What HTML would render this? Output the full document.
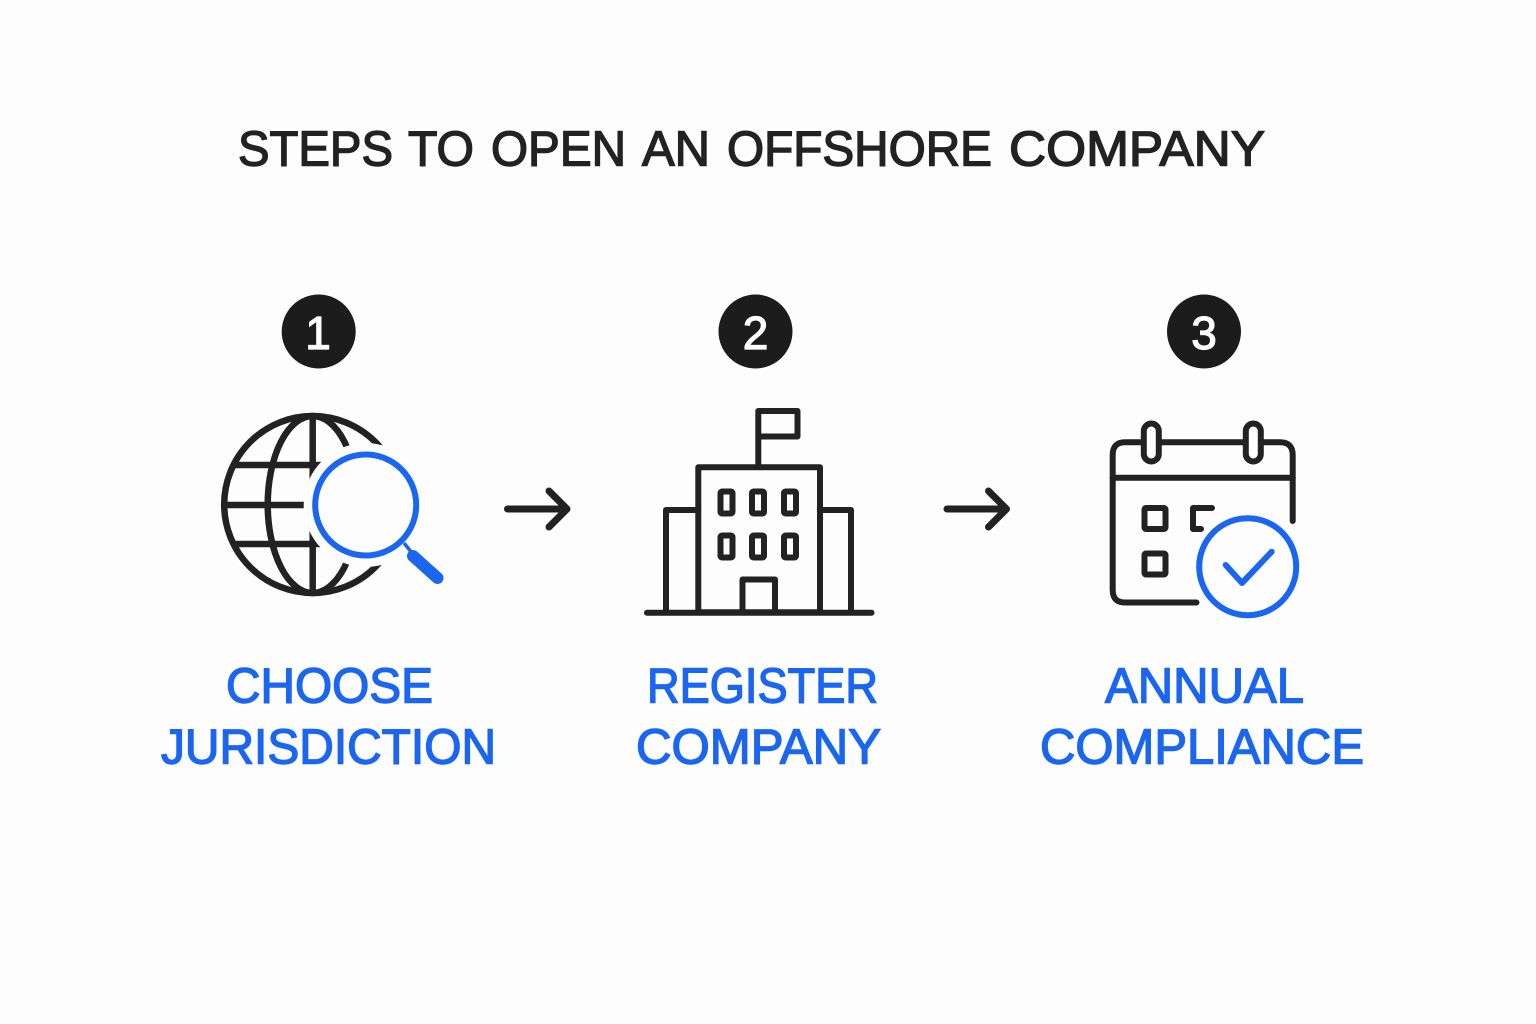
<!DOCTYPE html>
<html>
<head>
<meta charset="utf-8">
<style>
html,body{margin:0;padding:0;background:#fdfdfd}
svg{display:block}
text{font-family:"Liberation Sans",sans-serif}
</style>
</head>
<body>
<svg width="1536" height="1024" viewBox="0 0 1536 1024" xmlns="http://www.w3.org/2000/svg">
<rect width="1536" height="1024" fill="#fdfdfd"/>

<g fill="#222222" stroke="#222222" stroke-width="1.400" font-size="49">
<text x="238" y="165.500" textLength="155" lengthAdjust="spacingAndGlyphs">STEPS</text>
<text x="408" y="165.500" textLength="66" lengthAdjust="spacingAndGlyphs">TO</text>
<text x="491" y="165.500" textLength="135" lengthAdjust="spacingAndGlyphs">OPEN</text>
<text x="642" y="165.500" textLength="68" lengthAdjust="spacingAndGlyphs">AN</text>
<text x="727" y="165.500" textLength="265" lengthAdjust="spacingAndGlyphs">OFFSHORE</text>
<text x="1009" y="165.500" textLength="256" lengthAdjust="spacingAndGlyphs">COMPANY</text>
</g>

<g fill="#1c1c1c">
<circle cx="318.700" cy="331.500" r="37"/>
<circle cx="755.500" cy="331.500" r="37"/>
<circle cx="1204" cy="331.500" r="37"/>
</g>
<g fill="#ffffff" stroke="#ffffff" stroke-width="1.200" font-size="46" text-anchor="middle">
<text x="318" y="349">1</text>
<text x="755.500" y="349">2</text>
<text x="1204" y="349">3</text>
</g>

<!-- Globe -->
<g fill="none" stroke="#222222" stroke-width="6.500">
<circle cx="312.700" cy="504.500" r="88.500"/>
<ellipse cx="312.700" cy="504.500" rx="45" ry="88.500"/>
<line x1="312.700" y1="416" x2="312.700" y2="593"/>
<line x1="234" y1="465" x2="390" y2="465"/>
<line x1="226" y1="505" x2="390" y2="505"/>
<line x1="234" y1="544" x2="390" y2="544"/>
</g>
<circle cx="365.700" cy="505" r="62" fill="#fdfdfd"/>
<rect x="385" y="440" width="60" height="130" fill="#fdfdfd"/>
<g fill="none" stroke="#1a66f0">
<circle cx="365.700" cy="505" r="50.500" stroke-width="6"/>
<line x1="404" y1="543" x2="412" y2="553" stroke-width="3.500"/>
<line x1="413" y1="556" x2="437.500" y2="578" stroke-width="12" stroke-linecap="round"/>
</g>

<!-- Arrows -->
<g fill="none" stroke="#222222" stroke-width="7" stroke-linecap="round" stroke-linejoin="round">
<path d="M507.500 509H567M549 491L567 509L549 527"/>
<path d="M947 509H1006.500M988.500 491L1006.500 509L988.500 527"/>
</g>

<!-- Building -->
<g fill="none" stroke="#222222" stroke-width="6" stroke-linejoin="round" stroke-linecap="round">
<path d="M758.300 466V411H797.500V436.500H758.300"/>
<rect x="698.300" y="467.300" width="121.700" height="145"/>
<path d="M698 510H666V612M820 510H851V612"/>
<line x1="647" y1="612.700" x2="871.500" y2="612.700"/>
<path d="M742.500 612V579.500H775V612"/>
</g>
<g fill="none" stroke="#222222" stroke-width="6" stroke-linejoin="round">
<rect x="720.500" y="491.500" width="12" height="22" rx="1.500"/>
<rect x="752" y="491.500" width="12" height="22" rx="1.500"/>
<rect x="784" y="491.500" width="12" height="22" rx="1.500"/>
<rect x="720.500" y="535.500" width="12" height="22" rx="1.500"/>
<rect x="752" y="535.500" width="12" height="22" rx="1.500"/>
<rect x="784" y="535.500" width="12" height="22" rx="1.500"/>
</g>

<!-- Calendar -->
<g fill="none" stroke="#222222" stroke-width="6" stroke-linecap="round" stroke-linejoin="round">
<path d="M1196.500 602.500H1125Q1112.700 602.500 1112.700 590V455Q1112.700 442.300 1125 442.300H1280Q1292.700 442.300 1292.700 455V521"/>
<line x1="1112.700" y1="477.700" x2="1292.700" y2="477.700"/>
<rect x="1143.800" y="423.500" width="15" height="38" rx="7.500" fill="#fdfdfd"/>
<rect x="1245.800" y="423.500" width="15" height="38" rx="7.500" fill="#fdfdfd"/>
<rect x="1144.500" y="508" width="21" height="21" rx="1.500"/>
<rect x="1144.500" y="553.500" width="21" height="21" rx="1.500"/>
<path d="M1212 508H1193V529H1201"/>
</g>
<g fill="none" stroke="#1a66f0" stroke-width="6" stroke-linecap="round" stroke-linejoin="round">
<circle cx="1247.700" cy="566.700" r="48.500" fill="#fdfdfd"/>
<path d="M1225.700 565L1242 583L1271.700 551.700"/>
</g>

<!-- Labels -->
<g fill="#1a66f0" stroke="#1a66f0" stroke-width="1.400" font-size="49.500">
<text x="226" y="702.500" textLength="207" lengthAdjust="spacingAndGlyphs">CHOOSE</text>
<text x="161" y="763.500" textLength="335" lengthAdjust="spacingAndGlyphs">JURISDICTION</text>
<text x="647" y="702.500" textLength="231" lengthAdjust="spacingAndGlyphs">REGISTER</text>
<text x="636" y="763.500" textLength="245" lengthAdjust="spacingAndGlyphs">COMPANY</text>
<text x="1105" y="702.500" textLength="199" lengthAdjust="spacingAndGlyphs">ANNUAL</text>
<text x="1040" y="763.500" textLength="324" lengthAdjust="spacingAndGlyphs">COMPLIANCE</text>
</g>
</svg>
</body>
</html>
